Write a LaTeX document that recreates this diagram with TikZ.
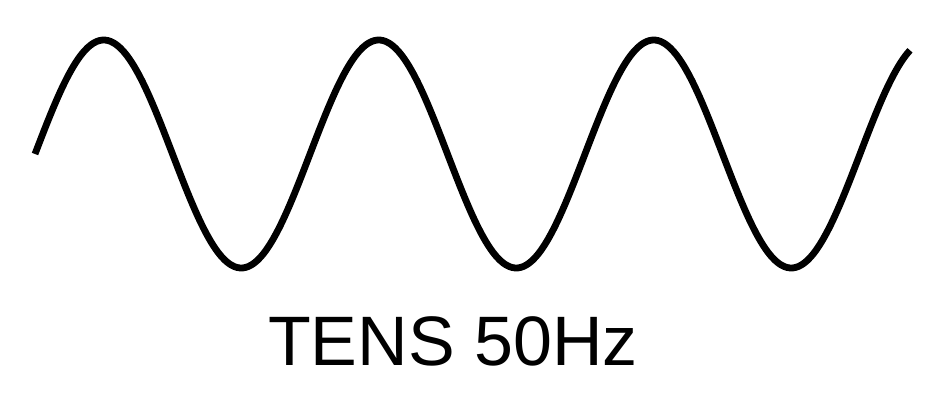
\documentclass[tikz,border=0pt]{standalone}
\usepackage{fontspec}
\setmainfont{Liberation Sans}
\begin{document}
\begin{tikzpicture}[x=1pt,y=1pt,
  wave/.style={line width=6.8pt, line cap=butt, line join=round},
  label/.style={font=\fontsize{70}{84}\selectfont, inner sep=0pt, anchor=base}]
\useasboundingbox (0,0) rectangle (930,-405);
\draw[wave] plot[domain=35:910, samples=300, smooth] (\x, {-154 + 114*sin(((\x-35)/275)*360)});
\node[label] (title) at (453,-365) {TENS 50Hz};
\end{tikzpicture}
\end{document}
